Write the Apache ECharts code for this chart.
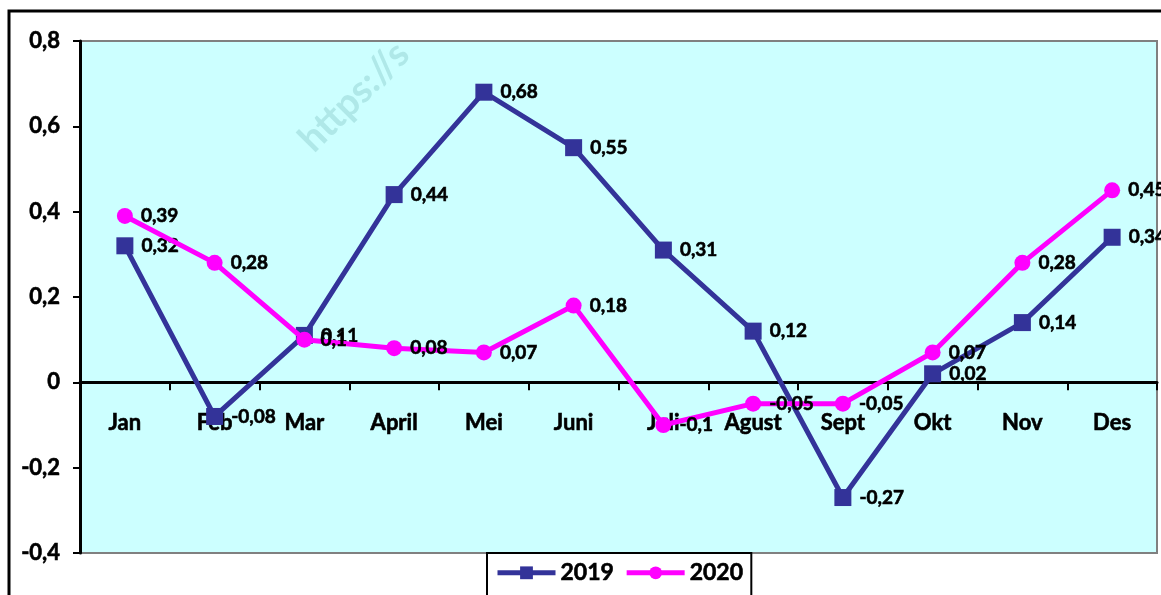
<!DOCTYPE html>
<html>
<head>
<meta charset="utf-8">
<script src="https://cdn.jsdelivr.net/npm/echarts@6/dist/echarts.min.js"></script>
<style>
  html, body { margin: 0; padding: 0; background: #fff; }
  #main { width: 1161px; height: 595px; }
</style>
</head>
<body>
<div id="main"></div>
<script>
const months = ["Jan", "Feb", "Mar", "April", "Mei", "Juni", "Juli", "Agust", "Sept", "Okt", "Nov", "Des"];
const values2019 = [0.32, -0.08, 0.11, 0.44, 0.68, 0.55, 0.31, 0.12, -0.27, 0.02, 0.14, 0.34];
const values2020 = [0.39, 0.28, 0.1, 0.08, 0.07, 0.18, -0.1, -0.05, -0.05, 0.07, 0.28, 0.45];

const fontFam = "Lato, 'Open Sans', sans-serif";
const comma = (v) => String(v).replace(".", ",");

const chart = echarts.init(document.getElementById("main"));

// bold text, with a thin outline so it reads as heavy as the original
const heavy = {
  color: "#000",
  fontFamily: fontFam,
  fontWeight: "bold",
  textBorderColor: "#000",
  textBorderWidth: 0.6,
};

const pointLabel = {
  ...heavy,
  show: true,
  position: "right",
  distance: 8,
  fontSize: 19,
  formatter: (p) => comma(p.value),
};

chart.setOption({
  animation: false,
  backgroundColor: "#fff",
  graphic: [
    {
      type: "rect",
      shape: { x: 9, y: 11, width: 1300, height: 700 },
      style: { fill: "none", stroke: "#000", lineWidth: 3 },
      z: 100,
    },
    {
      type: "text",
      x: 292,
      y: 132,
      rotation: Math.PI / 4,
      style: {
        text: "https://s",
        fill: "rgba(120,190,190,0.35)",
        font: "bold 38px " + fontFam,
      },
      z: 1,
    },
  ],
  grid: {
    left: 80,
    right: 4,
    top: 41,
    bottom: 42,
    show: true,
    backgroundColor: "#CCFFFF",
    borderColor: "#808080",
    borderWidth: 2,
  },
  legend: {
    left: 487,
    top: 553,
    padding: [8, 8, 20, 8],
    borderColor: "#000",
    borderWidth: 2,
    backgroundColor: "#fff",
    itemWidth: 58,
    itemHeight: 16,
    itemGap: 10,
    lineStyle: { width: 5 },
    textStyle: { ...heavy, fontSize: 23 },
    data: ["2019", "2020"],
  },
  xAxis: {
    type: "category",
    data: months,
    boundaryGap: true,
    axisLine: { onZero: true, lineStyle: { color: "#000", width: 3 } },
    axisTick: { show: true, length: 8, lineStyle: { color: "#000", width: 2 } },
    axisLabel: {
      ...heavy,
      fontSize: 22,
      margin: -141,
      interval: 0,
    },
    splitLine: { show: false },
  },
  yAxis: {
    type: "value",
    min: -0.4,
    max: 0.8,
    interval: 0.2,
    axisLine: { show: true, lineStyle: { color: "#000", width: 3 } },
    axisTick: { show: true, length: 7, lineStyle: { color: "#000", width: 2 } },
    axisLabel: {
      ...heavy,
      fontSize: 22,
      margin: 20,
      formatter: (v) => comma(Math.round(v * 10) / 10),
    },
    splitLine: { show: false },
  },
  series: [
    {
      name: "2019",
      type: "line",
      data: values2019,
      color: "#333399",
      symbol: "rect",
      symbolSize: 17,
      lineStyle: { width: 5, color: "#333399" },
      itemStyle: { color: "#333399" },
      label: pointLabel,
      z: 3,
    },
    {
      name: "2020",
      type: "line",
      data: values2020,
      color: "#FF00FF",
      symbol: "circle",
      symbolSize: 16,
      lineStyle: { width: 5, color: "#FF00FF" },
      itemStyle: { color: "#FF00FF" },
      label: pointLabel,
      z: 4,
    },
  ],
});
</script>
</body>
</html>
